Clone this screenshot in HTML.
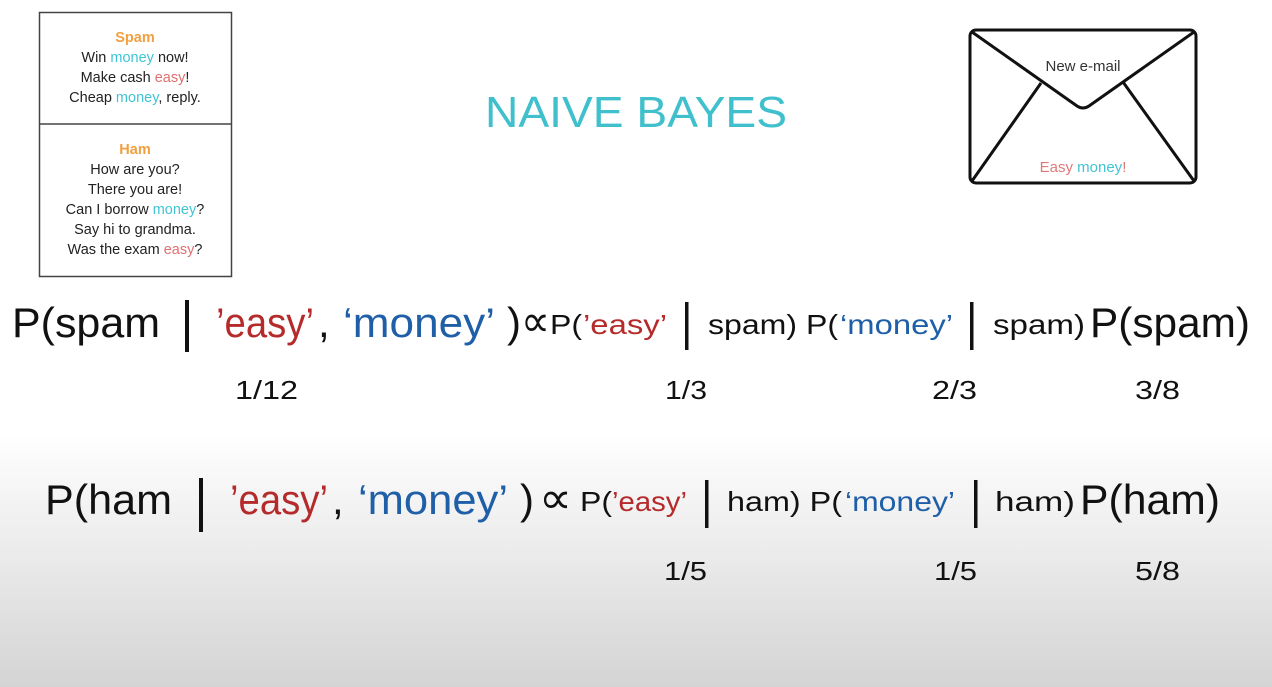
<!DOCTYPE html>
<html><head><meta charset="utf-8"><style>
html,body{margin:0;padding:0;width:1272px;height:687px;overflow:hidden;background:#fff}
</style></head><body>
<svg width="1272" height="687" xmlns="http://www.w3.org/2000/svg" font-family="Liberation Sans, DejaVu Sans, sans-serif">
<defs><linearGradient id="bg" x1="0" y1="0" x2="0" y2="1">
<stop offset="0" stop-color="#fff"/><stop offset="0.63" stop-color="#fff"/><stop offset="1" stop-color="#d4d4d4"/></linearGradient></defs>
<rect width="1272" height="687" fill="url(#bg)"/>

<rect x="39.5" y="12.5" width="192" height="264" fill="#fff" stroke="#444" stroke-width="1.5"/>
<line x1="39" y1="124" x2="232" y2="124" stroke="#444" stroke-width="1.5"/>
<g font-size="14.5" text-anchor="middle" fill="#222">
<text x="135" y="42" fill="#f0a040" font-weight="bold">Spam</text>
<text x="135" y="62">Win <tspan fill="#40c4d4">money</tspan> now!</text>
<text x="135" y="82">Make cash <tspan fill="#e07070">easy</tspan>!</text>
<text x="135" y="102">Cheap <tspan fill="#40c4d4">money</tspan>, reply.</text>
<text x="135" y="154" fill="#f0a040" font-weight="bold">Ham</text>
<text x="135" y="174">How are you?</text>
<text x="135" y="194">There you are!</text>
<text x="135" y="214">Can I borrow <tspan fill="#40c4d4">money</tspan>?</text>
<text x="135" y="234">Say hi to grandma.</text>
<text x="135" y="254">Was the exam <tspan fill="#e07070">easy</tspan>?</text>
</g>

<text x="485" y="127" font-size="44" fill="#3fc0cc" textLength="302" lengthAdjust="spacingAndGlyphs">NAIVE BAYES</text>

<rect x="970" y="30" width="226" height="153" rx="6" fill="#fff" stroke="#111" stroke-width="3"/>
<path d="M972 32 L1077 106 Q1083 110 1089 106 L1194 32" fill="none" stroke="#111" stroke-width="3"/>
<path d="M972 181 L1041 83 M1194 181 L1123 82" fill="none" stroke="#111" stroke-width="3"/>
<text x="1083" y="71" font-size="15" text-anchor="middle" fill="#333">New e-mail</text>
<text x="1083" y="172" font-size="15" text-anchor="middle"><tspan fill="#e07a7a">Easy</tspan> <tspan fill="#40c4d4">money</tspan><tspan fill="#e07a7a">!</tspan></text>

<g fill="#111">
<text x="12" y="337" font-size="42" textLength="148" lengthAdjust="spacingAndGlyphs">P(spam</text>
<rect x="185" y="300" width="4" height="52"/>
<text x="216" y="337" font-size="42" fill="#b52a2a" textLength="98" lengthAdjust="spacingAndGlyphs">’easy’</text>
<text x="318" y="337" font-size="42">,</text>
<text x="343" y="337" font-size="42" fill="#1f5fa8" textLength="152" lengthAdjust="spacingAndGlyphs">‘money’</text>
<text x="507" y="337" font-size="42">)</text>
<text x="521" y="336" font-size="44" textLength="29" lengthAdjust="spacingAndGlyphs">∝</text>
<text x="550" y="334" font-size="28" textLength="32" lengthAdjust="spacingAndGlyphs">P(</text>
<text x="583" y="334" font-size="28" fill="#b52a2a" textLength="84" lengthAdjust="spacingAndGlyphs">’easy’</text>
<rect x="685" y="302" width="3.5" height="48"/>
<text x="708" y="334" font-size="28" textLength="130" lengthAdjust="spacingAndGlyphs">spam) P(</text>
<text x="840" y="334" font-size="28" fill="#1f5fa8" textLength="113" lengthAdjust="spacingAndGlyphs">‘money’</text>
<rect x="970" y="302" width="3.5" height="48"/>
<text x="993" y="334" font-size="28" textLength="92" lengthAdjust="spacingAndGlyphs">spam)</text>
<text x="1090" y="337" font-size="42" textLength="160" lengthAdjust="spacingAndGlyphs">P(spam)</text>

<g font-size="26">
<text x="235" y="399" textLength="63" lengthAdjust="spacingAndGlyphs">1/12</text>
<text x="665" y="399" textLength="42" lengthAdjust="spacingAndGlyphs">1/3</text>
<text x="932" y="399" textLength="45" lengthAdjust="spacingAndGlyphs">2/3</text>
<text x="1135" y="399" textLength="45" lengthAdjust="spacingAndGlyphs">3/8</text>
</g>

<text x="45" y="514" font-size="42" textLength="127" lengthAdjust="spacingAndGlyphs">P(ham</text>
<rect x="199" y="478" width="4" height="54"/>
<text x="230" y="514" font-size="42" fill="#b52a2a" textLength="98" lengthAdjust="spacingAndGlyphs">’easy’</text>
<text x="332" y="514" font-size="42">,</text>
<text x="358" y="514" font-size="42" fill="#1f5fa8" textLength="150" lengthAdjust="spacingAndGlyphs">‘money’</text>
<text x="520" y="514" font-size="42">)</text>
<text x="539" y="513" font-size="44" textLength="33" lengthAdjust="spacingAndGlyphs">∝</text>
<text x="580" y="511" font-size="28" textLength="32" lengthAdjust="spacingAndGlyphs">P(</text>
<text x="612" y="511" font-size="28" fill="#b52a2a" textLength="75" lengthAdjust="spacingAndGlyphs">’easy’</text>
<rect x="705" y="480" width="3.5" height="48"/>
<text x="727" y="511" font-size="28" textLength="115" lengthAdjust="spacingAndGlyphs">ham) P(</text>
<text x="845" y="511" font-size="28" fill="#1f5fa8" textLength="110" lengthAdjust="spacingAndGlyphs">‘money’</text>
<rect x="974" y="480" width="3.5" height="48"/>
<text x="995" y="511" font-size="28" textLength="80" lengthAdjust="spacingAndGlyphs">ham)</text>
<text x="1080" y="514" font-size="42" textLength="140" lengthAdjust="spacingAndGlyphs">P(ham)</text>

<g font-size="26">
<text x="664" y="580" textLength="43" lengthAdjust="spacingAndGlyphs">1/5</text>
<text x="934" y="580" textLength="43" lengthAdjust="spacingAndGlyphs">1/5</text>
<text x="1135" y="580" textLength="45" lengthAdjust="spacingAndGlyphs">5/8</text>
</g>
</g>
</svg>
</body></html>
